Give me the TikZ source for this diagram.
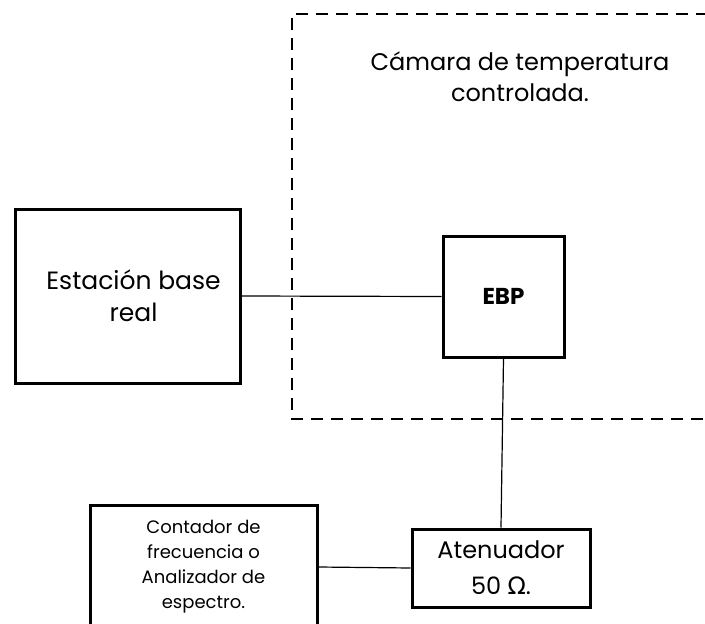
\documentclass[tikz,border=0pt]{standalone}
\usepackage{fontspec}
\setmainfont{Poppins}
\newfontfamily\symfont{DejaVu Sans}
\begin{document}
\begin{tikzpicture}[x=1pt,y=-1pt,
  box/.style={draw=black, line width=3pt, rectangle, inner sep=0pt, align=center, font=\fontsize{25}{32}\selectfont},
  conn/.style={draw=black, line width=1.2pt},
  chamber/.style={draw=black, line width=2.6pt, dash pattern=on 12pt off 8pt}]
\useasboundingbox (0,0) rectangle (705,624);
\clip (0,0) rectangle (705,624);
\fill[white] (0,0) rectangle (705,624);
% temperature chamber (open on the right)
\coordinate (chTR) at (708,14);
\coordinate (chTL) at (292,14);
\coordinate (chBL) at (292,419);
\coordinate (chBR) at (708,419);
\draw[chamber] (chTR) -- (chTL) -- (chBL) -- (chBR);
\node[align=center, font=\fontsize{24}{31}\selectfont] (chlabel) at (520,77) {Cámara de temperatura\\controlada.};
% blocks
\node[box, minimum width=225pt, minimum height=174pt] (esta) at (127.5,296) {\hspace*{12pt}Estación base\\\hspace*{12pt}real};
\node[box, minimum width=121pt, minimum height=121pt, font=\fontsize{23}{26}\selectfont\bfseries] (ebp) at (503.5,296.5) {EBP};
\node[box, minimum width=178pt, minimum height=78pt, font=\fontsize{24}{36}\selectfont] (aten) at (501,568) {Atenuador\\50 {\symfont Ω}.};
\node[box, minimum width=227pt, minimum height=124pt, font=\fontsize{18}{25}\selectfont] (cont) at (203.5,567) {Contador de\\frecuencia o\\Analizador de\\espectro.};
% connectors
\draw[conn] (esta.east) -- (ebp.west);
\draw[conn] (ebp.south) -- (aten.north);
\draw[conn] (cont.east) -- (aten.west);
\end{tikzpicture}
\end{document}
